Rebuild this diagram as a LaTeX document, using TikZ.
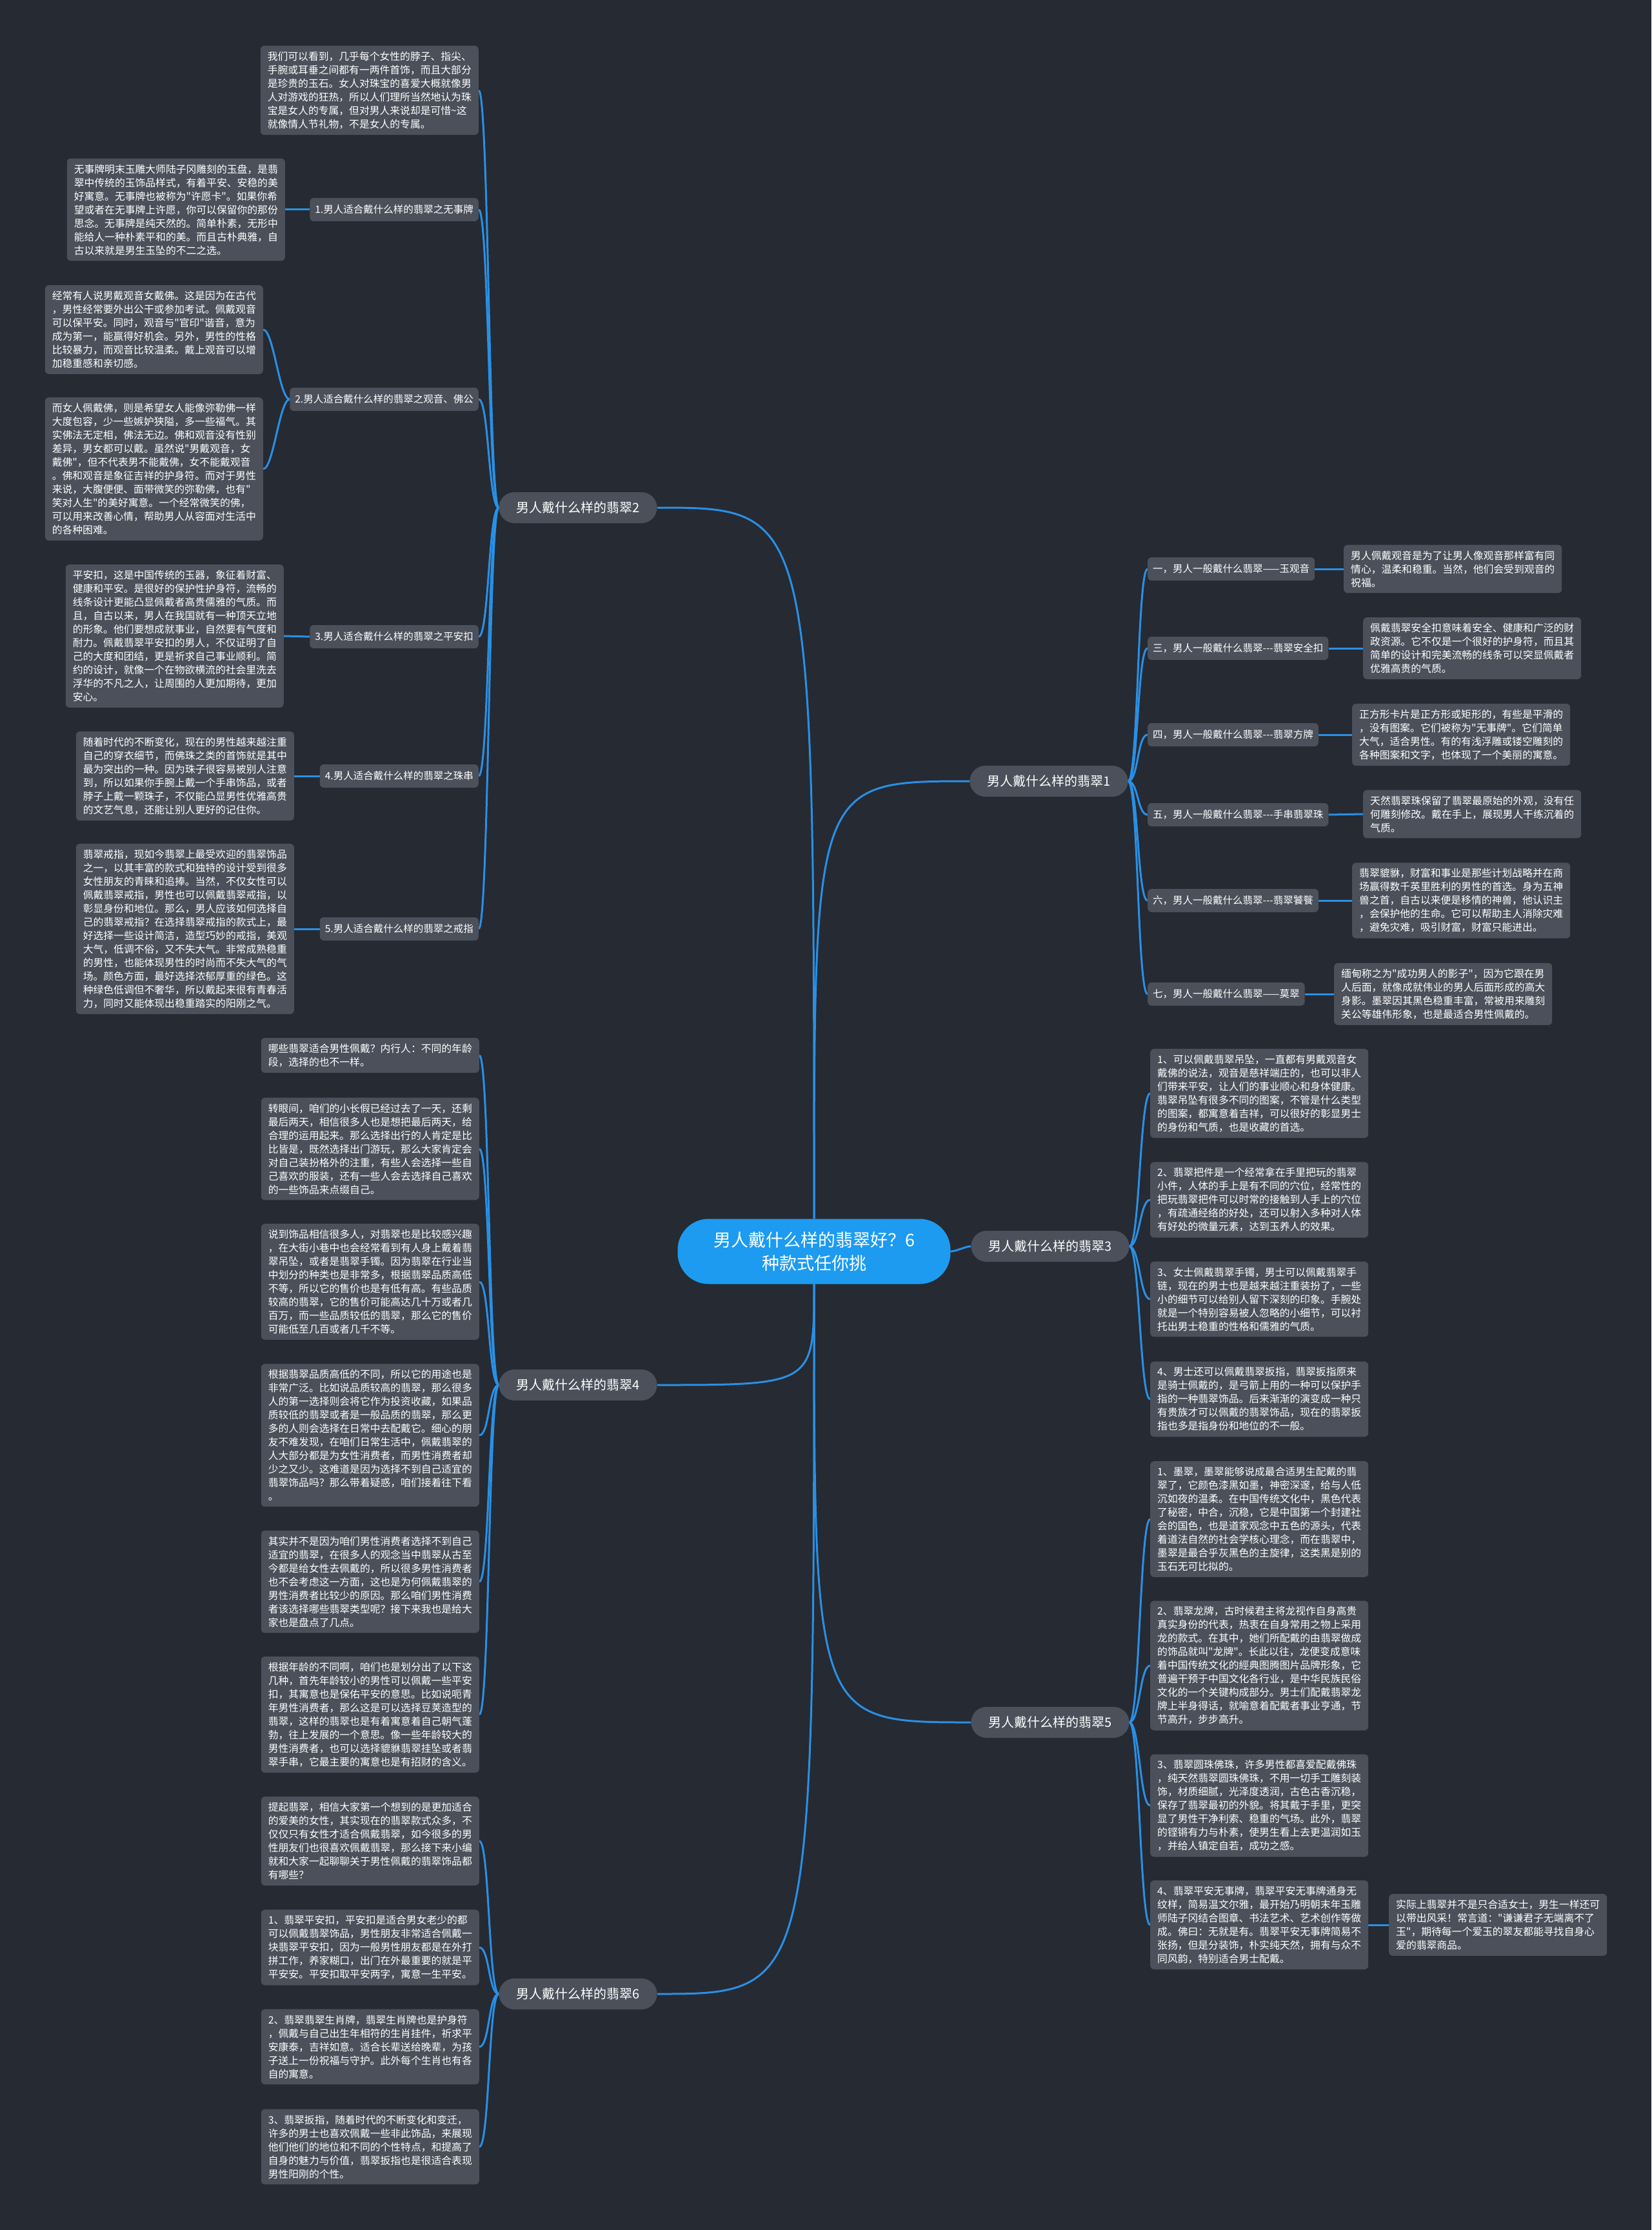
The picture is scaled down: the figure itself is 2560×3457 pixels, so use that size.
\documentclass[tikz,border=0pt]{standalone}
\usepackage{fontspec}
\newfontfamily\cjkfont{Noto Sans CJK SC}
\usepackage{xcolor}
\usepackage{tikz}
\usetikzlibrary{backgrounds,calc}
\definecolor{bgcol}{HTML}{262A33}
\definecolor{boxgray}{HTML}{4B505B}
\definecolor{rootblue}{HTML}{1C9BF0}
\definecolor{linkblue}{HTML}{2990E5}
\tikzset{
  root/.style={rectangle, rounded corners=48pt, fill=rootblue, text=white, minimum width=423pt, minimum height=101pt, align=center, font=\cjkfont\fontsize{27}{36}\selectfont},
  branch/.style={rectangle, rounded corners=24pt, fill=boxgray, text=white, minimum height=48pt, inner xsep=27pt, font=\cjkfont\fontsize{20}{24}\selectfont},
  topic/.style={rectangle, rounded corners=6pt, fill=boxgray, text=white, minimum height=36pt, inner xsep=8pt, font=\cjkfont\fontsize{15.5}{20}\selectfont},
  leaf/.style={rectangle, rounded corners=6pt, fill=boxgray, text=white, minimum width=338pt, inner xsep=9pt, inner ysep=9pt, align=left, font=\cjkfont\fontsize{15.8}{21}\selectfont},
  link/.style={draw=linkblue, line width=3pt}
}

\begin{document}
\begin{tikzpicture}[x=1pt, y=-1pt]
  \useasboundingbox (0,0) rectangle (2560,3457);

  % centre and main branches
  \node[root] (root) at (1262,1940) {男人戴什么样的翡翠好？6\\种款式任你挑};
  \node[branch] (br1) at (1626,1211) {男人戴什么样的翡翠1};
  \node[branch] (br2) at (896,787) {男人戴什么样的翡翠2};
  \node[branch] (br3) at (1628,1932) {男人戴什么样的翡翠3};
  \node[branch] (br4) at (896,2147) {男人戴什么样的翡翠4};
  \node[branch] (br5) at (1628,2670) {男人戴什么样的翡翠5};
  \node[branch] (br6) at (896,3091) {男人戴什么样的翡翠6};

  % branch 2
  \node[leaf, anchor=east] (l2a) at (742,140) {我们可以看到，几乎每个女性的脖子、指尖、\\手腕或耳垂之间都有一两件首饰，而且大部分\\是珍贵的玉石。女人对珠宝的喜爱大概就像男\\人对游戏的狂热，所以人们理所当然地认为珠\\宝是女人的专属，但对男人来说却是可惜\textasciitilde 这\\就像情人节礼物，不是女人的专属。};
  \node[topic, anchor=east] (t21) at (742,325) {1.男人适合戴什么样的翡翠之无事牌};
  \node[leaf, anchor=east] (w21) at (442,325) {无事牌明末玉雕大师陆子冈雕刻的玉盘，是翡\\翠中传统的玉饰品样式，有着平安、安稳的美\\好寓意。无事牌也被称为"许愿卡"。如果你希\\望或者在无事牌上许愿，你可以保留你的那份\\思念。无事牌是纯天然的。简单朴素，无形中\\能给人一种朴素平和的美。而且古朴典雅，自\\古以来就是男生玉坠的不二之选。};
  \node[topic, anchor=east] (t22) at (742,619) {2.男人适合戴什么样的翡翠之观音、佛公};
  \node[leaf, anchor=east] (w22a) at (408,511) {经常有人说男戴观音女戴佛。这是因为在古代\\，男性经常要外出公干或参加考试。佩戴观音\\可以保平安。同时，观音与"官印"谐音，意为\\成为第一，能赢得好机会。另外，男性的性格\\比较暴力，而观音比较温柔。戴上观音可以增\\加稳重感和亲切感。};
  \node[leaf, anchor=east] (w22b) at (408,727) {而女人佩戴佛，则是希望女人能像弥勒佛一样\\大度包容，少一些嫉妒狭隘，多一些福气。其\\实佛法无定相，佛法无边。佛和观音没有性别\\差异，男女都可以戴。虽然说"男戴观音，女\\戴佛"，但不代表男不能戴佛，女不能戴观音\\。佛和观音是象征吉祥的护身符。而对于男性\\来说，大腹便便、面带微笑的弥勒佛，也有"\\笑对人生"的美好寓意。一个经常微笑的佛，\\可以用来改善心情，帮助男人从容面对生活中\\的各种困难。};
  \node[topic, anchor=east] (t23) at (742,987) {3.男人适合戴什么样的翡翠之平安扣};
  \node[leaf, anchor=east] (w23) at (440,986) {平安扣，这是中国传统的玉器，象征着财富、\\健康和平安。是很好的保护性护身符，流畅的\\线条设计更能凸显佩戴者高贵儒雅的气质。而\\且，自古以来，男人在我国就有一种顶天立地\\的形象。他们要想成就事业，自然要有气度和\\耐力。佩戴翡翠平安扣的男人，不仅证明了自\\己的大度和团结，更是祈求自己事业顺利。简\\约的设计，就像一个在物欲横流的社会里洗去\\浮华的不凡之人，让周围的人更加期待，更加\\安心。};
  \node[topic, anchor=east] (t24) at (742,1203) {4.男人适合戴什么样的翡翠之珠串};
  \node[leaf, anchor=east] (w24) at (456,1203) {随着时代的不断变化，现在的男性越来越注重\\自己的穿衣细节，而佛珠之类的首饰就是其中\\最为突出的一种。因为珠子很容易被别人注意\\到，所以如果你手腕上戴一个手串饰品，或者\\脖子上戴一颗珠子，不仅能凸显男性优雅高贵\\的文艺气息，还能让别人更好的记住你。};
  \node[topic, anchor=east] (t25) at (742,1440) {5.男人适合戴什么样的翡翠之戒指};
  \node[leaf, anchor=east] (w25) at (456,1440) {翡翠戒指，现如今翡翠上最受欢迎的翡翠饰品\\之一，以其丰富的款式和独特的设计受到很多\\女性朋友的青睐和追捧。当然，不仅女性可以\\佩戴翡翠戒指，男性也可以佩戴翡翠戒指，以\\彰显身份和地位。那么，男人应该如何选择自\\己的翡翠戒指？在选择翡翠戒指的款式上，最\\好选择一些设计简洁，造型巧妙的戒指，美观\\大气，低调不俗，又不失大气。非常成熟稳重\\的男性，也能体现男性的时尚而不失大气的气\\场。颜色方面，最好选择浓郁厚重的绿色。这\\种绿色低调但不奢华，所以戴起来很有青春活\\力，同时又能体现出稳重踏实的阳刚之气。};

  % branch 4
  \node[leaf, anchor=east] (l41) at (743,1636) {哪些翡翠适合男性佩戴？内行人：不同的年龄\\段，选择的也不一样。};
  \node[leaf, anchor=east] (l42) at (743,1781) {转眼间，咱们的小长假已经过去了一天，还剩\\最后两天，相信很多人也是想把最后两天，给\\合理的运用起来。那么选择出行的人肯定是比\\比皆是，既然选择出门游玩，那么大家肯定会\\对自己装扮格外的注重，有些人会选择一些自\\己喜欢的服装，还有一些人会去选择自己喜欢\\的一些饰品来点缀自己。};
  \node[leaf, anchor=east] (l43) at (743,1987) {说到饰品相信很多人，对翡翠也是比较感兴趣\\，在大街小巷中也会经常看到有人身上戴着翡\\翠吊坠，或者是翡翠手镯。因为翡翠在行业当\\中划分的种类也是非常多，根据翡翠品质高低\\不等，所以它的售价也是有低有高。有些品质\\较高的翡翠，它的售价可能高达几十万或者几\\百万，而一些品质较低的翡翠，那么它的售价\\可能低至几百或者几千不等。};
  \node[leaf, anchor=east] (l44) at (743,2225) {根据翡翠品质高低的不同，所以它的用途也是\\非常广泛。比如说品质较高的翡翠，那么很多\\人的第一选择则会将它作为投资收藏，如果品\\质较低的翡翠或者是一般品质的翡翠，那么更\\多的人则会选择在日常中去配戴它。细心的朋\\友不难发现，在咱们日常生活中，佩戴翡翠的\\人大部分都是为女性消费者，而男性消费者却\\少之又少。这难道是因为选择不到自己适宜的\\翡翠饰品吗？那么带着疑惑，咱们接着往下看\\。};
  \node[leaf, anchor=east] (l45) at (743,2452) {其实并不是因为咱们男性消费者选择不到自己\\适宜的翡翠，在很多人的观念当中翡翠从古至\\今都是给女性去佩戴的，所以很多男性消费者\\也不会考虑这一方面，这也是为何佩戴翡翠的\\男性消费者比较少的原因。那么咱们男性消费\\者该选择哪些翡翠类型呢？接下来我也是给大\\家也是盘点了几点。};
  \node[leaf, anchor=east] (l46) at (743,2658) {根据年龄的不同啊，咱们也是划分出了以下这\\几种，首先年龄较小的男性可以佩戴一些平安\\扣，其寓意也是保佑平安的意思。比如说呃青\\年男性消费者，那么这是可以选择豆荚造型的\\翡翠，这样的翡翠也是有着寓意着自己朝气蓬\\勃，往上发展的一个意思。像一些年龄较大的\\男性消费者，也可以选择貔貅翡翠挂坠或者翡\\翠手串，它最主要的寓意也是有招财的含义。};

  % branch 6
  \node[leaf, anchor=east] (l61) at (743,2854) {提起翡翠，相信大家第一个想到的是更加适合\\的爱美的女性，其实现在的翡翠款式众多，不\\仅仅只有女性才适合佩戴翡翠，如今很多的男\\性朋友们也很喜欢佩戴翡翠，那么接下来小编\\就和大家一起聊聊关于男性佩戴的翡翠饰品都\\有哪些？};
  \node[leaf, anchor=east] (l62) at (743,3019) {1、翡翠平安扣，平安扣是适合男女老少的都\\可以佩戴翡翠饰品，男性朋友非常适合佩戴一\\块翡翠平安扣，因为一般男性朋友都是在外打\\拼工作，养家糊口，出门在外最重要的就是平\\平安安。平安扣取平安两字，寓意一生平安。};
  \node[leaf, anchor=east] (l63) at (743,3173) {2、翡翠翡翠生肖牌，翡翠生肖牌也是护身符\\，佩戴与自己出生年相符的生肖挂件，祈求平\\安康泰，吉祥如意。适合长辈送给晚辈，为孩\\子送上一份祝福与守护。此外每个生肖也有各\\自的寓意。};
  \node[leaf, anchor=east] (l64) at (743,3328) {3、翡翠扳指，随着时代的不断变化和变迁，\\许多的男士也喜欢佩戴一些非此饰品，来展现\\他们他们的地位和不同的个性特点，和提高了\\自身的魅力与价值，翡翠扳指也是很适合表现\\男性阳刚的个性。};

  % branch 1
  \node[topic, anchor=west] (t11) at (1779,882) {一，男人一般戴什么翡翠——玉观音};
  \node[leaf, anchor=west] (w11) at (2083,882) {男人佩戴观音是为了让男人像观音那样富有同\\情心，温柔和稳重。当然，他们会受到观音的\\祝福。};
  \node[topic, anchor=west] (t12) at (1779,1005) {三，男人一般戴什么翡翠---翡翠安全扣};
  \node[leaf, anchor=west] (w12) at (2113,1005) {佩戴翡翠安全扣意味着安全、健康和广泛的财\\政资源。它不仅是一个很好的护身符，而且其\\简单的设计和完美流畅的线条可以突显佩戴者\\优雅高贵的气质。};
  \node[topic, anchor=west] (t13) at (1779,1139) {四，男人一般戴什么翡翠---翡翠方牌};
  \node[leaf, anchor=west] (w13) at (2096,1139) {正方形卡片是正方形或矩形的，有些是平滑的\\，没有图案。它们被称为"无事牌"。它们简单\\大气，适合男性。有的有浅浮雕或镂空雕刻的\\各种图案和文字，也体现了一个美丽的寓意。};
  \node[topic, anchor=west] (t14) at (1779,1263) {五，男人一般戴什么翡翠---手串翡翠珠};
  \node[leaf, anchor=west] (w14) at (2113,1262) {天然翡翠珠保留了翡翠最原始的外观，没有任\\何雕刻修改。戴在手上，展现男人干练沉着的\\气质。};
  \node[topic, anchor=west] (t15) at (1779,1396) {六，男人一般戴什么翡翠---翡翠饕餮};
  \node[leaf, anchor=west] (w15) at (2096,1396) {翡翠貔貅，财富和事业是那些计划战略并在商\\场赢得数千英里胜利的男性的首选。身为五神\\兽之首，自古以来便是移情的神兽，他认识主\\，会保护他的生命。它可以帮助主人消除灾难\\，避免灾难，吸引财富，财富只能进出。};
  \node[topic, anchor=west] (t16) at (1779,1541) {七，男人一般戴什么翡翠——莫翠};
  \node[leaf, anchor=west] (w16) at (2068,1541) {缅甸称之为"成功男人的影子"，因为它跟在男\\人后面，就像成就伟业的男人后面形成的高大\\身影。墨翠因其黑色稳重丰富，常被用来雕刻\\关公等雄伟形象，也是最适合男性佩戴的。};

  % branch 3
  \node[leaf, anchor=west] (l31) at (1783,1695) {1、可以佩戴翡翠吊坠，一直都有男戴观音女\\戴佛的说法，观音是慈祥端庄的，也可以非人\\们带来平安，让人们的事业顺心和身体健康。\\翡翠吊坠有很多不同的图案，不管是什么类型\\的图案，都寓意着吉祥，可以很好的彰显男士\\的身份和气质，也是收藏的首选。};
  \node[leaf, anchor=west] (l32) at (1783,1860) {2、翡翠把件是一个经常拿在手里把玩的翡翠\\小件，人体的手上是有不同的穴位，经常性的\\把玩翡翠把件可以时常的接触到人手上的穴位\\，有疏通经络的好处，还可以射入多种对人体\\有好处的微量元素，达到玉养人的效果。};
  \node[leaf, anchor=west] (l33) at (1783,2014) {3、女士佩戴翡翠手镯，男士可以佩戴翡翠手\\链，现在的男士也是越来越注重装扮了，一些\\小的细节可以给别人留下深刻的印象。手腕处\\就是一个特别容易被人忽略的小细节，可以衬\\托出男士稳重的性格和儒雅的气质。};
  \node[leaf, anchor=west] (l34) at (1783,2169) {4、男士还可以佩戴翡翠扳指，翡翠扳指原来\\是骑士佩戴的，是弓箭上用的一种可以保护手\\指的一种翡翠饰品。后来渐渐的演变成一种只\\有贵族才可以佩戴的翡翠饰品，现在的翡翠扳\\指也多是指身份和地位的不一般。};

  % branch 5
  \node[leaf, anchor=west] (l51) at (1783,2355) {1、墨翠，墨翠能够说成最合适男生配戴的翡\\翠了，它颜色漆黑如墨，神密深邃，给与人低\\沉如夜的温柔。在中国传统文化中，黑色代表\\了秘密，中合，沉稳，它是中国第一个封建社\\会的国色，也是道家观念中五色的源头，代表\\着道法自然的社会学核心理念，而在翡翠中，\\墨翠是最合乎灰黑色的主旋律，这类黑是别的\\玉石无可比拟的。};
  \node[leaf, anchor=west] (l52) at (1783,2582) {2、翡翠龙牌，古时候君主将龙视作自身高贵\\真实身份的代表，热衷在自身常用之物上采用\\龙的款式。在其中，她们所配戴的由翡翠做成\\的饰品就叫"龙牌"。长此以往，龙便变成意味\\着中国传统文化的經典图腾图片品牌形象，它\\普遍干预于中国文化各行业，是中华民族民俗\\文化的一个关键构成部分。男士们配戴翡翠龙\\牌上半身得话，就喻意着配戴者事业亨通，节\\节高升，步步高升。};
  \node[leaf, anchor=west] (l53) at (1783,2799) {3、翡翠圆珠佛珠，许多男性都喜爱配戴佛珠\\，纯天然翡翠圆珠佛珠，不用一切手工雕刻装\\饰，材质细腻，光泽度透润，古色古香沉稳，\\保存了翡翠最初的外貌。将其戴于手里，更突\\显了男性干净利索、稳重的气场。此外，翡翠\\的铿锵有力与朴素，使男生看上去更温润如玉\\，并给人镇定自若，成功之感。};
  \node[leaf, anchor=west] (l54) at (1783,2984) {4、翡翠平安无事牌，翡翠平安无事牌通身无\\纹样，简易温文尔雅，最开始乃明朝末年玉雕\\师陆子冈结合图章、书法艺术、艺术创作等做\\成。佛曰：无就是有。翡翠平安无事牌简易不\\张扬，但是分装饰，朴实纯天然，拥有与众不\\同风韵，特别适合男士配戴。};
  \node[leaf, anchor=west] (w54) at (2153,2984) {实际上翡翠并不是只合适女士，男生一样还可\\以带出风采！常言道："谦谦君子无端离不了\\玉"，期待每一个爱玉的翠友都能寻找自身心\\爱的翡翠商品。};

  \begin{scope}[on background layer]
    \fill[bgcol] (0,0) rectangle (2560,3457);
    % centre to branches
    \draw[link] (root.north) .. controls (root.north |- br2.east) .. (br2.east);
    \draw[link] (root.north) .. controls (root.north |- br1.west) .. (br1.west);
    \draw[link] (root.south) .. controls (root.south |- br4.east) .. (br4.east);
    \draw[link] (root.south) .. controls (root.south |- br6.east) .. (br6.east);
    \draw[link] (root.south) .. controls (root.south |- br5.west) .. (br5.west);
    \draw[link] (root.east) .. controls +(8,0) and +(-8,0) .. (br3.west);
    % branches to children
    \foreach \c in {l2a,t21,t22,t23,t24,t25}
      \draw[link] (br2.west) .. controls +(-16,0) and +(16,0) .. (\c.east);
    \foreach \c in {l41,l42,l43,l44,l45,l46}
      \draw[link] (br4.west) .. controls +(-16,0) and +(16,0) .. (\c.east);
    \foreach \c in {l61,l62,l63,l64}
      \draw[link] (br6.west) .. controls +(-16,0) and +(16,0) .. (\c.east);
    \foreach \c in {t11,t12,t13,t14,t15,t16}
      \draw[link] (br1.east) .. controls +(16,0) and +(-16,0) .. (\c.west);
    \foreach \c in {l31,l32,l33,l34}
      \draw[link] (br3.east) .. controls +(16,0) and +(-16,0) .. (\c.west);
    \foreach \c in {l51,l52,l53,l54}
      \draw[link] (br5.east) .. controls +(16,0) and +(-16,0) .. (\c.west);
    % topics to texts
    \foreach \t/\w in {t21/w21,t23/w23,t24/w24,t25/w25}
      \draw[link] (\t.west) -- (\w.east);
    \foreach \w in {w22a,w22b}
      \draw[link] (t22.west) .. controls +(-16,0) and +(16,0) .. (\w.east);
    \foreach \t/\w in {t11/w11,t12/w12,t13/w13,t14/w14,t15/w15,t16/w16,l54/w54}
      \draw[link] (\t.east) -- (\w.west);
  \end{scope}
\end{tikzpicture}
\end{document}
